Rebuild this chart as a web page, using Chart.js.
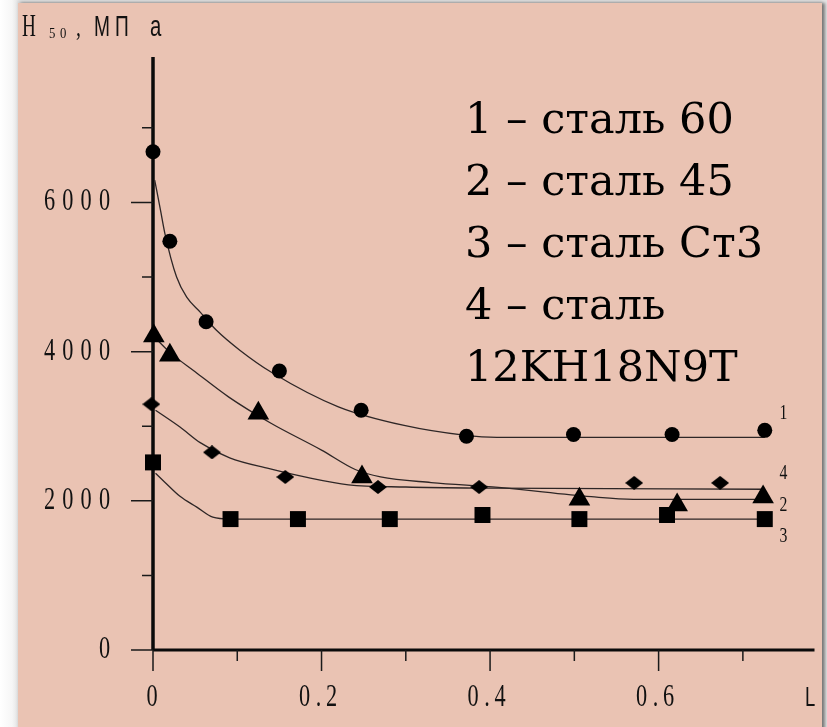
<!DOCTYPE html>
<html>
<head>
<meta charset="utf-8">
<script src="https://cdn.jsdelivr.net/npm/chart.js@4.4.0/dist/chart.umd.min.js"></script>
<style>
  html, body { margin: 0; padding: 0; overflow: hidden; }
  body { width: 827px; height: 727px; position: relative;
    background: linear-gradient(to right, #ffffff 0px, #f6f6f6 12px, #e4e4e4 18px); }
  #panel { position: absolute; left: 18px; top: 3px; width: 804px; height: 740px; background: #eac3b3;
    box-shadow: 3px 0 3px rgba(0,0,0,0.45), 0 -2px 3px rgba(0,0,0,0.10); }
  #chart { position: absolute; left: 0; top: 0; }
  .fontwarm { position: absolute; left: -999px; top: 0; }
</style>
</head>
<body>
<div id="panel"></div>
<span class="fontwarm" style="font-family: 'Liberation Serif'">6000 H</span>
<span class="fontwarm" style="font-family: 'Liberation Sans'">МПа L</span>
<span class="fontwarm" style="font-family: 'DejaVu Serif'">сталь 60</span>
<canvas id="chart" width="827" height="727"></canvas>
<script>
// measured points (markers)
const s1X = [0, 0.020, 0.063, 0.150, 0.247, 0.372, 0.499, 0.616, 0.726];
const s1Y = [6680, 5480, 4400, 3740, 3215, 2865, 2890, 2890, 2945];

const s2X = [0.001, 0.020, 0.125, 0.248, 0.506, 0.622, 0.724];
const s2Y = [4210, 3950, 3175, 2320, 2020, 1945, 2050];

const s3X = [0, 0.092, 0.172, 0.281, 0.391, 0.506, 0.610, 0.726];
const s3Y = [2515, 1755, 1755, 1755, 1810, 1755, 1810, 1755];

const s4X = [-0.002, 0.070, 0.157, 0.267, 0.387, 0.571, 0.673];
const s4Y = [3295, 2650, 2320, 2185, 2185, 2240, 2240];

// fitted curves
const fit1X = [0.002, 0.009, 0.014, 0.028, 0.040, 0.056, 0.075, 0.103, 0.141, 0.220, 0.298, 0.369, 0.408, 0.726];
const fit1Y = [6300, 5890, 5590, 5000, 4730, 4530, 4290, 4020, 3720, 3260, 3010, 2880, 2850, 2850];

const fit2X = [0.003, 0.020, 0.050, 0.090, 0.140, 0.200, 0.240, 0.270, 0.330, 0.410, 0.520, 0.570, 0.725];
const fit2Y = [4180, 3990, 3730, 3390, 3040, 2680, 2420, 2320, 2245, 2180, 2055, 2020, 2020];

const fit3X = [0.003, 0.014, 0.032, 0.052, 0.071, 0.091, 0.726];
const fit3Y = [2370, 2250, 2060, 1915, 1780, 1755, 1755];

const fit4X = [0.003, 0.032, 0.056, 0.091, 0.138, 0.180, 0.232, 0.300, 0.400, 0.725];
const fit4Y = [3215, 2990, 2780, 2575, 2430, 2320, 2215, 2185, 2170, 2155];

// axes
const yMajor = [0, 2000, 4000, 6000];
const yMinor = [1000, 3000, 5000, 7000];
const yTickLabels = ['0', '2000', '4000', '6000'];
const xMajor = [0, 0.2, 0.4, 0.6];
const xMinor = [0.1, 0.3, 0.5, 0.7];
const xTickLabels = ['0', '0.2', '0.4', '0.6'];

// curve number labels at the right end
const lineLabels = ['1', '4', '2', '3'];
const lineLabelY = [3194, 2391, 1960, 1540];
const lineLabelX = 0.748;

const legendLines = ['1 – сталь 60', '2 – сталь 45', '3 – сталь Ст3', '4 – сталь', '12KH18N9T'];

const SERIF = '"Liberation Serif", "Times New Roman", serif';
const SANS = '"Liberation Sans", Arial, sans-serif';
const BIGSERIF = '"DejaVu Serif", Georgia, serif';

function pts(xs, ys) {
  return xs.map((x, i) => ({ x: x, y: ys[i] }));
}

// wide diamond marker
const diamond = document.createElement('canvas');
diamond.width = 18;
diamond.height = 14;
const dc = diamond.getContext('2d');
dc.fillStyle = '#000';
dc.beginPath();
dc.moveTo(9, 0); dc.lineTo(18, 7); dc.lineTo(9, 14); dc.lineTo(0, 7);
dc.closePath();
dc.fill();

function condensed(ctx, str, x, y, font, sx, align) {
  ctx.save();
  ctx.translate(x, y);
  ctx.scale(sx, 1);
  ctx.font = font;
  ctx.textAlign = align || 'center';
  ctx.textBaseline = 'alphabetic';
  ctx.fillText(str, 0, 0);
  ctx.restore();
}

const axesPlugin = {
  id: 'axes',
  beforeDatasetsDraw(chart) {
    const ctx = chart.ctx;
    const x = chart.scales.x, y = chart.scales.y;
    const x0 = x.getPixelForValue(0), y0 = y.getPixelForValue(0);
    ctx.save();
    ctx.strokeStyle = '#0a0a0a';
    ctx.lineWidth = 3.5;
    ctx.beginPath();
    ctx.moveTo(x0, y.top);
    ctx.lineTo(x0, y0);
    ctx.stroke();
    ctx.lineWidth = 3;
    ctx.beginPath();
    ctx.moveTo(x0, y0);
    ctx.lineTo(x.right, y0);
    ctx.stroke();

    ctx.strokeStyle = '#1a1a1a';
    ctx.lineWidth = 1.5;
    ctx.beginPath();
    yMajor.forEach(v => { const p = y.getPixelForValue(v); ctx.moveTo(x0 - 22, p); ctx.lineTo(x0, p); });
    yMinor.forEach(v => { const p = y.getPixelForValue(v); ctx.moveTo(x0 - 11, p); ctx.lineTo(x0, p); });
    xMajor.forEach(v => { const p = x.getPixelForValue(v); ctx.moveTo(p, y0); ctx.lineTo(p, y0 + 21); });
    xMinor.forEach(v => { const p = x.getPixelForValue(v); ctx.moveTo(p, y0); ctx.lineTo(p, y0 + 11); });
    ctx.stroke();

    ctx.fillStyle = '#111';
    // y tick labels, spaced condensed digits
    yMajor.forEach((v, i) => {
      const p = y.getPixelForValue(v);
      const chars = yTickLabels[i].split('');
      chars.forEach((c, k) => {
        const cx = x0 - 48.5 - (chars.length - 1 - k) * 18.3;
        condensed(ctx, c, cx, p + 8, '31px ' + SERIF, 0.72);
      });
    });
    // x tick labels
    xMajor.forEach((v, i) => {
      const p = x.getPixelForValue(v);
      const lab = xTickLabels[i];
      if (lab.indexOf('.') < 0) {
        condensed(ctx, lab, p - 1, y0 + 56, '31px ' + SERIF, 0.72);
      } else {
        const chars = lab.split('');
        const offs = [-17, -3, 10];
        chars.forEach((c, k) => condensed(ctx, c, p + offs[k], y0 + 56, '31px ' + SERIF, 0.72));
      }
    });
    ctx.restore();
  },
  afterDatasetsDraw(chart) {
    const ctx = chart.ctx;
    const x = chart.scales.x, y = chart.scales.y;
    ctx.save();
    ctx.fillStyle = '#111';
    // axis titles
    condensed(ctx, 'H', 22, 36, '32px ' + SERIF, 0.6, 'left');
    condensed(ctx, '5', 49, 38, '15px ' + SERIF, 0.85, 'left');
    condensed(ctx, '0', 60, 38, '15px ' + SERIF, 0.85, 'left');
    condensed(ctx, ',', 76, 36, '28px ' + SERIF, 0.7, 'left');
    condensed(ctx, 'М', 94, 36, '29px ' + SANS, 0.66, 'left');
    condensed(ctx, 'П', 115, 36, '29px ' + SANS, 0.66, 'left');
    condensed(ctx, 'а', 150, 36, '29px ' + SANS, 0.7, 'left');
    condensed(ctx, 'L', 805, y.getPixelForValue(0) + 56, '28px ' + SANS, 0.66, 'left');

    // curve numbers
    lineLabels.forEach((t, i) => {
      condensed(ctx, t, x.getPixelForValue(lineLabelX), y.getPixelForValue(lineLabelY[i]) + 7,
        '21px ' + SERIF, 0.75);
    });

    // legend block
    ctx.font = '43px ' + BIGSERIF;
    ctx.textAlign = 'left';
    ctx.textBaseline = 'alphabetic';
    ctx.fillStyle = '#000';
    legendLines.forEach((t, i) => ctx.fillText(t, 465, 133 + i * 62));
    ctx.restore();
  }
};

const curveStyle = {
  showLine: true, pointRadius: 0, borderColor: '#2e2626', borderWidth: 1.3,
  cubicInterpolationMode: 'monotone', clip: false
};
const markStyle = { showLine: false, backgroundColor: '#000', borderColor: '#000', pointBorderWidth: 0, clip: false };

function build() {
  new Chart(document.getElementById('chart'), {
    type: 'scatter',
    data: {
      datasets: [
        Object.assign({ label: 'сталь 60', data: pts(s1X, s1Y), pointStyle: 'circle', pointRadius: 7.5 }, markStyle),
        Object.assign({ label: 'сталь 45', data: pts(s2X, s2Y), pointStyle: 'triangle', pointRadius: 12.5 }, markStyle),
        Object.assign({ label: 'сталь Ст3', data: pts(s3X, s3Y), pointStyle: 'rect', pointRadius: 11.3 }, markStyle),
        Object.assign({ label: 'сталь 12KH18N9T', data: pts(s4X, s4Y), pointStyle: diamond, pointRadius: 9 }, markStyle),
        Object.assign({ label: 'fit 1', data: pts(fit1X, fit1Y) }, curveStyle),
        Object.assign({ label: 'fit 2', data: pts(fit2X, fit2Y) }, curveStyle),
        Object.assign({ label: 'fit 3', data: pts(fit3X, fit3Y) }, curveStyle),
        Object.assign({ label: 'fit 4', data: pts(fit4X, fit4Y) }, curveStyle)
      ]
    },
    options: {
      responsive: false,
      animation: false,
      devicePixelRatio: 1,
      layout: { padding: { left: 153, right: 5, top: 57, bottom: 77 } },
      plugins: { legend: { display: false }, tooltip: { enabled: false } },
      scales: {
        x: { type: 'linear', min: 0, max: 0.785, display: false },
        y: { min: 0, max: 7950, display: false }
      }
    },
    plugins: [axesPlugin]
  });
}

Promise.all([
  document.fonts.load('31px "Liberation Serif"'),
  document.fonts.load('29px "Liberation Sans"'),
  document.fonts.load('43px "DejaVu Serif"')
]).then(build, build);
</script>
</body>
</html>
